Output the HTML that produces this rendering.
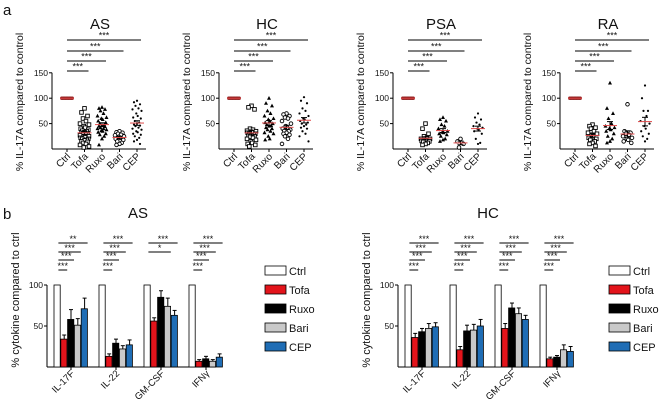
<!DOCTYPE html>
<html><head><meta charset="utf-8"><style>
body{margin:0;background:#fff}
svg{display:block;font-family:"Liberation Sans",sans-serif}
</style></head><body>
<svg id="fig" width="660" height="409" viewBox="0 0 660 409"></svg>
<script>
const cats=["Ctrl","Tofa","Ruxo","Bari","CEP"];
const panels=["AS","HC","PSA","RA"];
const asTofa=[80,72,65,60,55,50,48,45,42,40,38,36,35,33,32,30,30,28,27,25,25,23,22,20,20,18,17,15,14,12,10,8,5,3];
const asRuxo=[82,80,78,75,70,65,62,60,58,55,52,50,48,46,45,44,42,40,40,38,36,35,33,30,28,25,20,8];
const asBari=[35,33,32,30,28,27,25,24,22,20,18,15,12,10,8];
const asCep=[95,92,88,85,80,78,75,70,65,62,60,55,52,50,48,46,45,42,40,38,35,33,30,28,25,22,18,15,10];
const hcTofa=[85,82,78,40,38,36,35,34,33,32,30,30,28,27,26,25,24,22,20,18,15,12,10,8,5];
const hcRuxo=[100,90,85,75,70,65,60,58,55,52,50,48,46,45,42,40,38,35,32,30,25,20,18];
const hcBari=[70,68,65,62,60,55,50,45,42,40,38,36,35,32,30,28,25,20,10];
const hcCep=[102,95,90,80,75,70,65,60,58,55,52,50,48,45,42,40,35,30,25,15];
const psaTofa=[50,40,30,25,22,20,20,18,17,16,15,14,12,10,8];
const psaRuxo=[62,58,55,48,45,40,35,33,32,30,28,25,20,18,15];
const psaBari=[20,15,10,3];
const psaCep=[70,62,58,52,48,45,42,40,38,35,30,20,12,10];
const raTofa=[48,45,42,40,35,32,30,28,25,22,20,18,15,12,10,6];
const raRuxo=[130,80,70,60,50,45,42,40,38,35,30,25,20,15,12];
const raBari=[88,35,32,30,28,25,22,20,18,15,12];
const raCep=[125,100,75,75,65,55,50,45,40,35,30,25,20,15];
const ctrlVals=[100,100,100,100,100,100,100,100];
const aTicks=[50,100,150];

const cytokines=["IL-17F","IL-22","GM-CSF","IFNγ"];
const bAsMean=[[100,34,58,51,71],[100,13,29,22,27],[100,56,85,74,63],[100,7,10,7,12]];
const bAsErr=[[0,5,12,8,13],[0,3,5,4,6],[0,4,8,10,6],[0,2,3,2,4]];
const bHcMean=[[100,36,43,47,49],[100,21,44,45,50],[100,47,72,65,58],[100,10,12,21,19]];
const bHcErr=[[0,5,4,6,5],[0,4,7,7,8],[0,6,6,7,5],[0,2,2,6,6]];
const bAsSig=[["**","***","***","***"],["***","***","***","***"],["***","*","",""],["***","***","***","***"]];
const bHcSig=[["***","***","***","***"],["***","***","***","***"],["***","***","***","***"],["***","***","***","***"]];
const bTicks=[50,100];

const NS="http://www.w3.org/2000/svg";
const svg=document.getElementById('fig');
function el(tag,attrs,parent,txt){const e=document.createElementNS(NS,tag);for(const k in attrs)e.setAttribute(k,attrs[k]);if(txt!==undefined)e.textContent=txt;(parent||svg).appendChild(e);return e;}
const colors=["#fff","#e3141b","#000","#c9c9c9","#1f6db5"];

function txt(x,y,s,size,p,anchor,extra){const t=el('text',Object.assign({x:x,y:y,'font-size':size,'text-anchor':anchor||'middle',fill:'#111'},extra||{}),p,s);return t;}

let t=txt(3,15,"a",15,svg,'start');

t=txt(3,219,"b",15,svg,'start');


const aData=[[ctrlVals,asTofa,asRuxo,asBari,asCep],[ctrlVals,hcTofa,hcRuxo,hcBari,hcCep],[ctrlVals,psaTofa,psaRuxo,psaBari,psaCep],[ctrlVals,raTofa,raRuxo,raBari,raCep]];
const axX=[52,219,393,560];
const jit=[0,-3,3,-1.5,1.5,-4.5,4.5,-0.7,0.7,-3.8,3.8,-2.2,2.2];
panels.forEach((name,pi)=>{
  const g=el('g',{},svg);
  
  
  const ax=axX[pi];
  const y=v=>149-v*0.508;
  const x=i=>ax+15+i*17.5;
  let tt=txt(ax+48,29,name,15,g);
  
  tt=txt(0,0,"% IL-17A compared  to control",10.5,g,'middle',{transform:`translate(${ax-29},102) rotate(-90)`});
  
  el('line',{x1:ax,y1:y(150),x2:ax,y2:149,stroke:'#000','stroke-width':1},g);
  el('line',{x1:ax,y1:149,x2:ax+94,y2:149,stroke:'#000','stroke-width':1},g);
  aTicks.forEach(v=>{el('line',{x1:ax-3,y1:y(v),x2:ax,y2:y(v),stroke:'#000'},g);
    const l=txt(ax-4,y(v)+3,String(v),8.5,g,'end');});
  cats.forEach((c,i)=>{
    el('line',{x1:x(i),y1:149,x2:x(i),y2:152,stroke:'#000'},g);
    const l=txt(0,0,c,10,g,'end',{transform:`translate(${x(i)+4},157) rotate(-45)`});
    
    const vals=aData[pi][i];
    vals.forEach((v,k)=>{
      const px=x(i)+(i===0?(k-3.5)*1.5:jit[k%jit.length]),py=y(v);
      let m;
      if(i===0)m=el('circle',{cx:px,cy:py,r:1.7,fill:'#8b1a1a'},g);
      else if(i===1)m=el('rect',{x:px-1.8,y:py-1.8,width:3.6,height:3.6,fill:'#fff',stroke:'#000','stroke-width':0.9},g);
      else if(i===2)m=el('path',{d:`M${px},${py-2.2}L${px+2},${py+1.5}L${px-2},${py+1.5}Z`,fill:'#000'},g);
      else if(i===3)m=el('circle',{cx:px,cy:py,r:1.8,fill:'#fff',stroke:'#000','stroke-width':0.9},g);
      else m=el('circle',{cx:px,cy:py,r:1.1,fill:'#000'},g);
      
      
    });
    const mean=vals.reduce((a,b)=>a+b,0)/vals.length;
    const sd=Math.sqrt(vals.reduce((a,b)=>a+(b-mean)*(b-mean),0)/Math.max(1,vals.length-1));
    const se=sd/Math.sqrt(vals.length);
    if(i>0){el('line',{x1:x(i),y1:y(mean-se),x2:x(i),y2:y(mean+se),stroke:'#000'},g);
      el('line',{x1:x(i)-3,y1:y(mean+se),x2:x(i)+3,y2:y(mean+se),stroke:'#000'},g);
      el('line',{x1:x(i)-3,y1:y(mean-se),x2:x(i)+3,y2:y(mean-se),stroke:'#000'},g);}
    const ml=el('line',{x1:x(i)-7,y1:y(mean),x2:x(i)+7,y2:y(mean),stroke:'#e04848','stroke-width':1},g);
    
    if(i>0){const ly=[0,71,61,51,40][i];
      el('line',{x1:x(0),y1:ly,x2:x(i)+4,y2:ly,stroke:'#000'},g);
      const s=txt((x(0)+x(i)+4)/2,ly-1.5,"***",9,g);}
  });
});

function barPanel(name,ax,titleX,mean,err,sig,legX){
  const g=el('g',{},svg);
  
  
  const y=v=>367-v*0.82;
  const bw=6.8;
  const bx=(gi,i)=>ax+7+gi*45+i*bw;
  let tt=txt(titleX,218,name,15,g);
  tt=txt(0,0,"% cytokine compared to ctrl",11,g,'middle',{transform:`translate(${ax-28},300) rotate(-90)`});
  
  el('line',{x1:ax,y1:y(100),x2:ax,y2:367,stroke:'#000'},g);
  el('line',{x1:ax,y1:367,x2:ax+169,y2:367,stroke:'#000'},g);
  bTicks.forEach(v=>{el('line',{x1:ax-3,y1:y(v),x2:ax,y2:y(v),stroke:'#000'},g);
    const l=txt(ax-4,y(v)+3,String(v),8.5,g,'end');});
  cytokines.forEach((c,gi)=>{
    const cx=bx(gi,2.5);
    el('line',{x1:cx,y1:367,x2:cx,y2:370,stroke:'#000'},g);
    const l=txt(0,0,c,9.5,g,'end',{transform:`translate(${cx+4},374) rotate(-45)`});
    
    cats.forEach((k,i)=>{
      const v=mean[gi][i],e=err[gi][i];
      if(e>0){el('line',{x1:bx(gi,i)+bw/2,y1:y(v),x2:bx(gi,i)+bw/2,y2:y(v+e),stroke:'#000'},g);
        el('line',{x1:bx(gi,i)+bw/2-2,y1:y(v+e),x2:bx(gi,i)+bw/2+2,y2:y(v+e),stroke:'#000'},g);}
      const r=el('rect',{x:bx(gi,i),y:y(v),width:bw-0.6,height:367-y(v),fill:colors[i],stroke:'#000','stroke-width':0.8},g);
      
      
    });
    const rows=[270,260,252,243];
    [1,2,3,4].forEach((i,ri)=>{
      const s=sig[gi][4-i];
      if(!s)return;
      const ly=rows[ri];
      const x1=bx(gi,0)+bw/2+1,x2=bx(gi,i)+bw/2+3;
      el('line',{x1:x1,y1:ly,x2:x2,y2:ly,stroke:'#000'},g);
      const st=txt((x1+x2)/2,ly-1,s,9,g);
    });
  });
  const lg=el('g',{},g);
  
  cats.forEach((k,i)=>{
    const ly=266+i*19;
    const r=el('rect',{x:legX,y:ly,width:21,height:9,fill:colors[i],stroke:'#000','stroke-width':0.8},lg);
    
    const l=txt(legX+24,ly+9,k,11,lg,'start');
  });
}
barPanel("AS",47,138,bAsMean,bAsErr,bAsSig,265);
barPanel("HC",398,488,bHcMean,bHcErr,bHcSig,609);
</script>
</body></html>
